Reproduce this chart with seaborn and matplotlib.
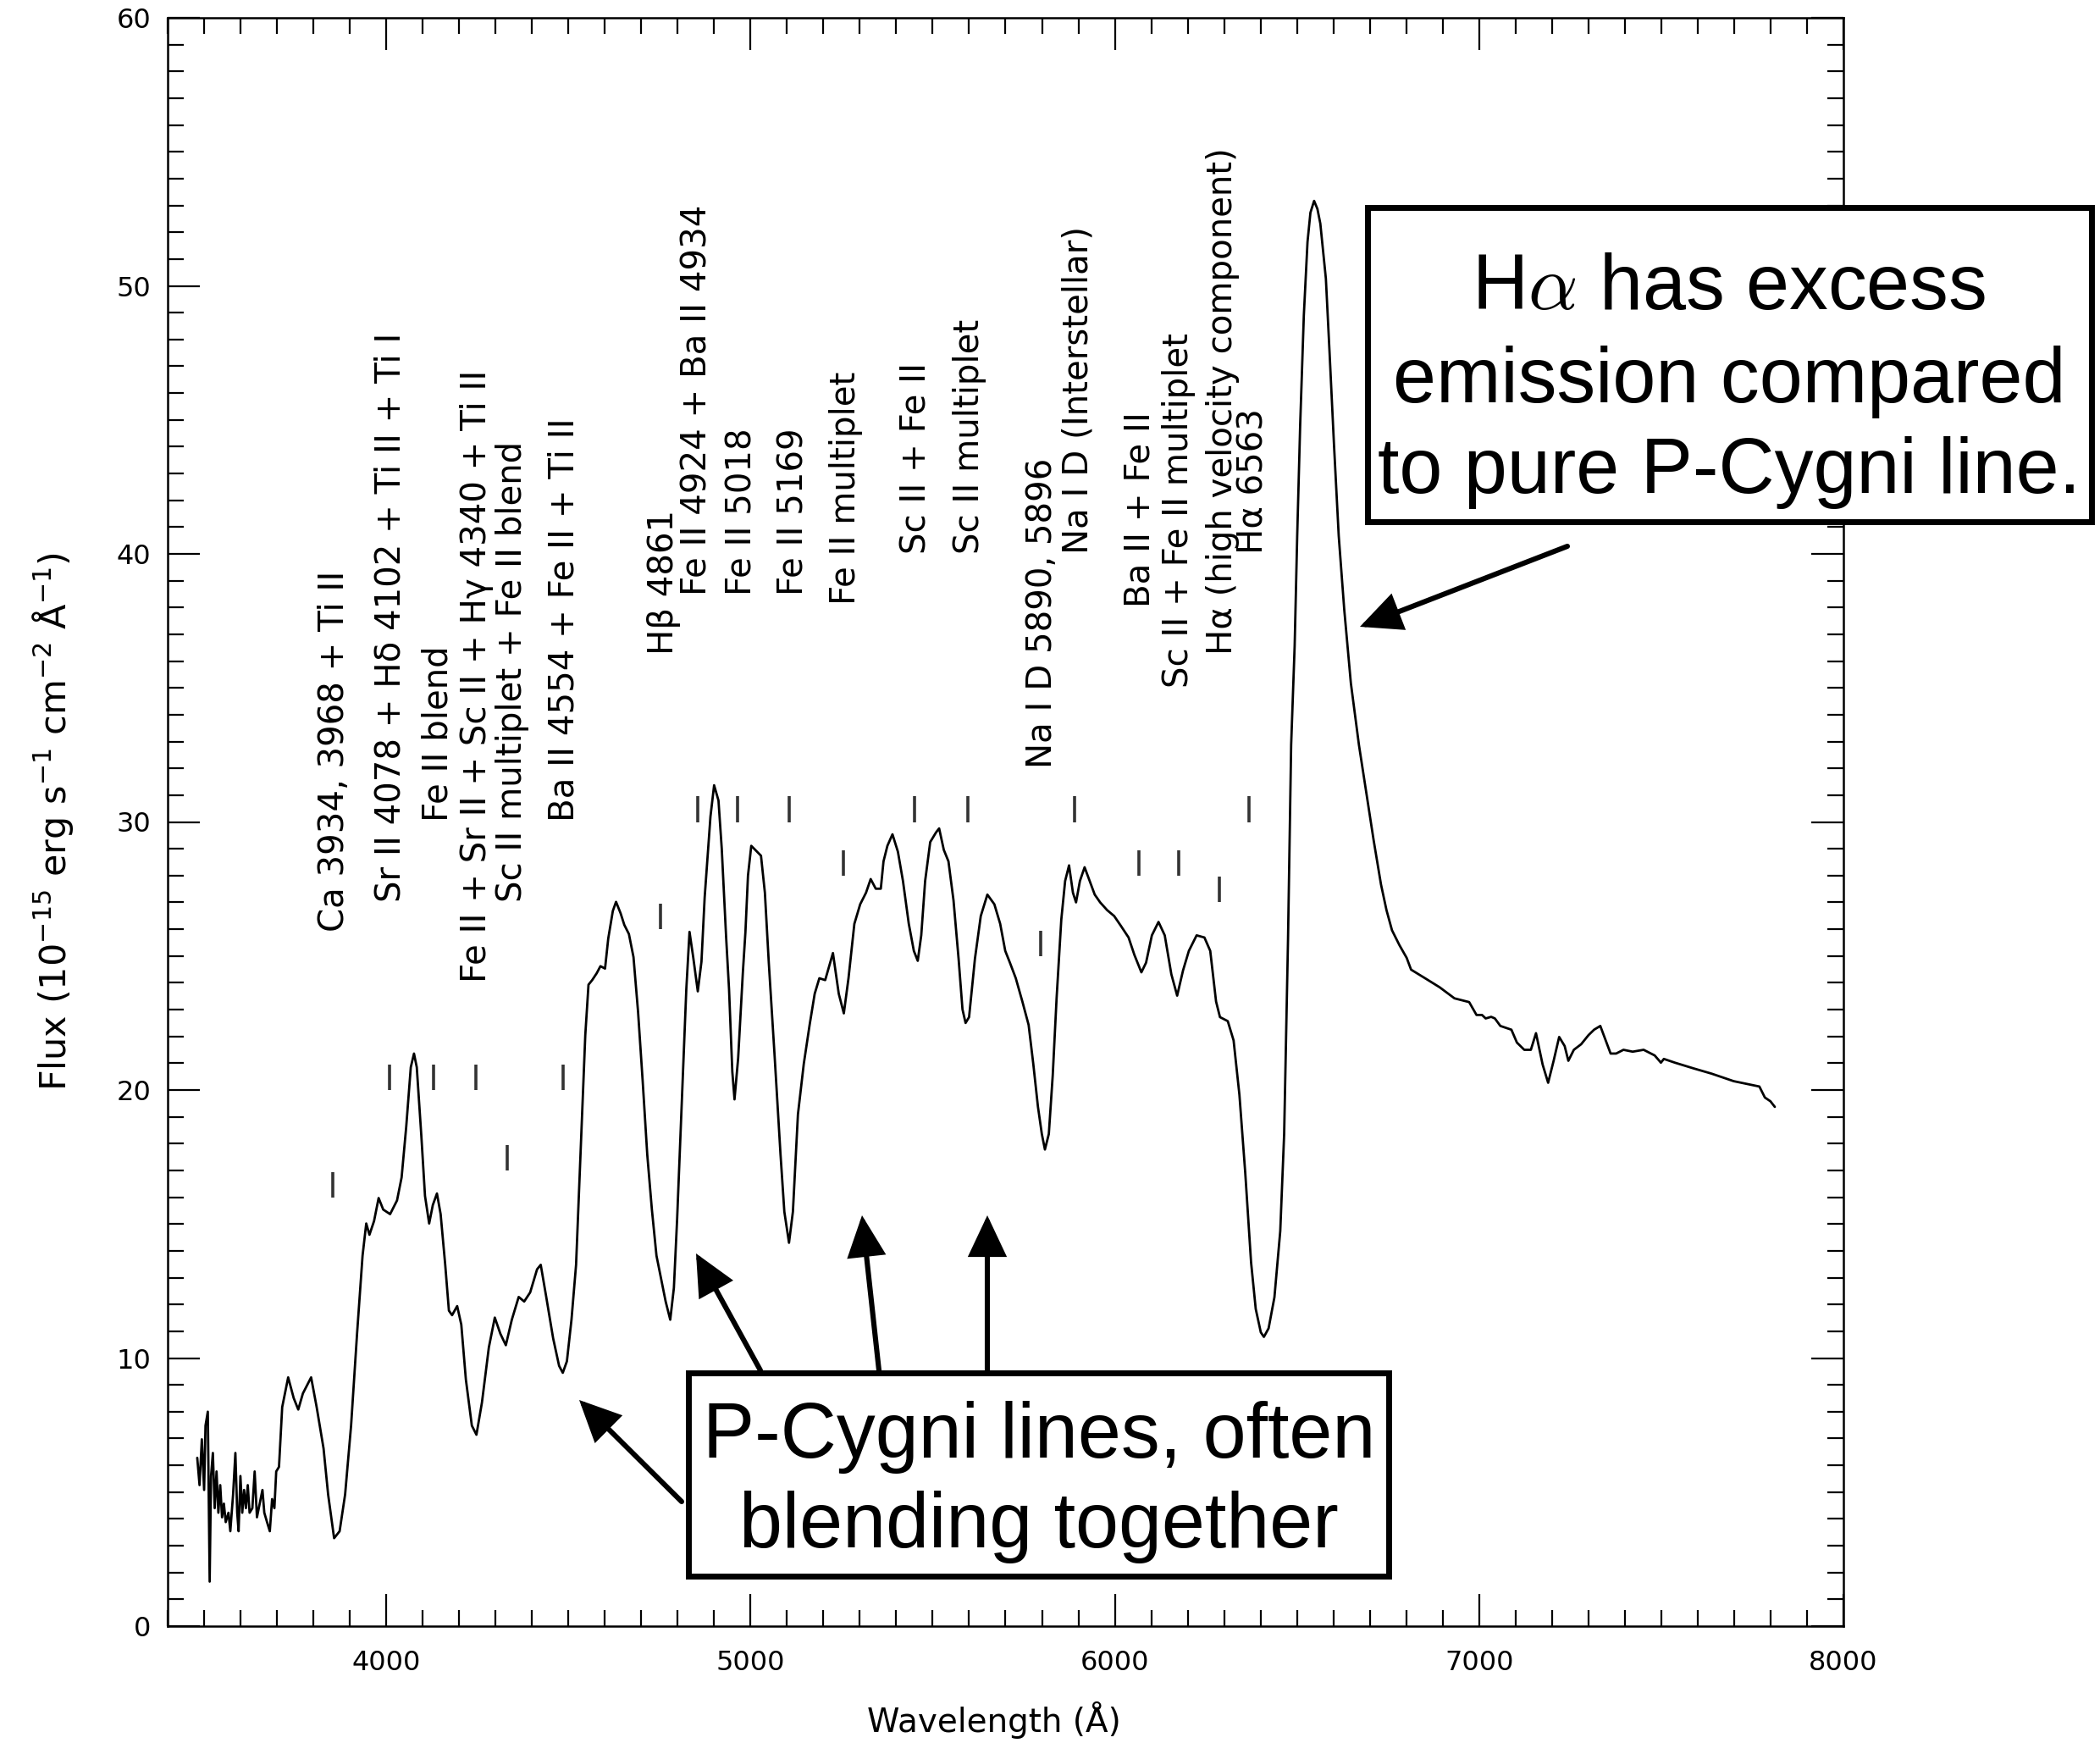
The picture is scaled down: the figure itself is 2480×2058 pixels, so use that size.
import numpy as np
import pandas as pd
import matplotlib
matplotlib.use("Agg")
import matplotlib.pyplot as plt
import seaborn as sns
from matplotlib.patches import Rectangle, FancyArrowPatch
from matplotlib.ticker import MultipleLocator

# ---------------- data ----------------
wavelength = [
    3481.2, 3487.5, 3493.8, 3500.1, 3503.9, 3510.2, 3515.3, 3519.1, 3524.1, 3529.1,
    3534.2, 3539.2, 3544.3, 3549.3, 3554.3, 3559.4, 3566.9, 3572.0, 3579.6, 3585.9,
    3590.9, 3594.7, 3599.7, 3604.8, 3609.8, 3614.8, 3619.9, 3624.9, 3632.5, 3638.8,
    3645.1, 3652.7, 3660.2, 3665.3, 3672.8, 3680.4, 3686.7, 3693.0, 3698.0, 3705.6,
    3714.4, 3730.8, 3745.9, 3758.5, 3771.2, 3793.8, 3809.0, 3827.9, 3840.5, 3856.9,
    3872.0, 3887.1, 3903.5, 3919.9, 3935.0, 3945.1, 3953.9, 3966.5, 3979.1, 3991.7,
    4010.6, 4029.6, 4042.2, 4054.8, 4067.4, 4076.2, 4083.8, 4096.4, 4106.4, 4117.8,
    4127.9, 4139.2, 4149.3, 4161.9, 4172.0, 4180.8, 4194.7, 4206.0, 4218.6, 4235.0,
    4247.6, 4262.7, 4281.7, 4298.0, 4313.2, 4328.3, 4344.7, 4363.6, 4378.7, 4395.1,
    4414.0, 4424.1, 4439.2, 4458.1, 4474.5, 4484.6, 4495.9, 4508.5, 4521.1, 4533.8,
    4546.4, 4555.2, 4565.3, 4577.9, 4588.0, 4600.6, 4609.4, 4622.0, 4630.8, 4643.4,
    4653.5, 4666.1, 4678.7, 4691.3, 4703.9, 4716.5, 4729.2, 4741.8, 4754.3, 4767.0,
    4779.6, 4789.6, 4798.5, 4811.1, 4823.7, 4832.5, 4842.6, 4855.2, 4865.3, 4874.1,
    4890.0, 4900.0, 4912.0, 4921.0, 4933.0, 4941.0, 4950.0, 4956.0, 4966.0, 4979.0,
    4986.0, 4993.0, 5002.0, 5018.0, 5028.7, 5039.4, 5050.1, 5066.1, 5082.1, 5092.8,
    5105.6, 5116.3, 5130.1, 5146.2, 5162.2, 5176.1, 5188.9, 5204.9, 5215.6, 5226.2,
    5242.2, 5256.1, 5268.9, 5285.0, 5301.0, 5317.0, 5329.8, 5343.7, 5357.6, 5365.0,
    5375.7, 5389.6, 5404.5, 5418.4, 5434.4, 5448.3, 5459.0, 5468.6, 5479.3, 5493.2,
    5509.2, 5517.7, 5530.5, 5543.3, 5557.2, 5571.1, 5581.8, 5590.3, 5599.9, 5616.0,
    5632.0, 5650.1, 5669.3, 5685.3, 5699.2, 5712.0, 5728.1, 5746.2, 5763.3, 5776.1,
    5788.9, 5799.6, 5808.1, 5818.8, 5829.5, 5840.2, 5853.0, 5863.6, 5874.3, 5885.0,
    5893.5, 5904.2, 5917.0, 5930.9, 5944.8, 5959.7, 5978.9, 5998.2, 6016.3, 6037.7,
    6053.7, 6072.9, 6085.7, 6101.7, 6119.9, 6137.0, 6155.1, 6171.1, 6187.2, 6203.2,
    6224.5, 6245.9, 6261.9, 6277.9, 6288.6, 6310.0, 6326.0, 6342.0, 6358.0, 6374.0,
    6386.8, 6400.7, 6409.2, 6422.1, 6438.1, 6454.1, 6464.8, 6475.4, 6484.0, 6493.6,
    6500.6, 6508.7, 6518.8, 6528.9, 6536.9, 6547.0, 6556.1, 6564.1, 6579.3, 6589.4,
    6601.5, 6614.6, 6629.7, 6647.9, 6670.0, 6690.2, 6710.4, 6730.6, 6745.7, 6760.8,
    6781.0, 6801.1, 6813.2, 6851.6, 6891.9, 6932.3, 6972.6, 6992.8, 7007.9, 7018.0,
    7033.1, 7043.2, 7058.3, 7088.6, 7103.7, 7123.9, 7142.0, 7156.1, 7174.3, 7189.4,
    7204.5, 7219.7, 7234.8, 7244.9, 7260.0, 7280.2, 7300.4, 7315.5, 7332.6, 7345.7,
    7360.9, 7376.0, 7396.2, 7421.4, 7451.6, 7481.9, 7499.0, 7507.1, 7537.4, 7587.8,
    7638.2, 7698.7, 7769.3, 7784.4, 7799.6, 7811.7,
]
flux = [
    6.28, 5.26, 6.97, 5.08, 7.48, 8.00, 1.66, 5.60, 6.46, 4.40,
    5.77, 4.23, 5.26, 4.06, 4.57, 3.88, 4.23, 3.54, 4.91, 6.46,
    4.23, 3.54, 5.60, 4.23, 5.08, 4.40, 5.26, 4.23, 4.40, 5.77,
    4.06, 4.57, 5.08, 4.23, 3.88, 3.54, 4.74, 4.40, 5.77, 5.94,
    8.17, 9.28, 8.51, 8.08, 8.68, 9.28, 8.17, 6.63, 4.91, 3.28,
    3.54, 4.91, 7.48, 10.91, 13.82, 15.02, 14.60, 15.11, 15.97, 15.54,
    15.37, 15.88, 16.74, 18.62, 20.85, 21.36, 20.85, 18.28, 16.05, 15.02,
    15.71, 16.14, 15.37, 13.48, 11.77, 11.60, 11.94, 11.25, 9.20, 7.48,
    7.14, 8.34, 10.40, 11.51, 10.91, 10.48, 11.43, 12.28, 12.11, 12.45,
    13.31, 13.48, 12.28, 10.74, 9.71, 9.45, 9.88, 11.43, 13.48, 17.77,
    22.05, 23.93, 24.10, 24.36, 24.62, 24.53, 25.65, 26.68, 27.02, 26.59,
    26.16, 25.82, 24.96, 22.91, 20.34, 17.59, 15.54, 13.82, 12.97, 12.11,
    11.43, 12.62, 15.19, 19.48, 23.76, 25.90, 24.96, 23.68, 24.79, 27.19,
    30.20, 31.37, 30.80, 29.00, 25.70, 23.76, 20.68, 19.65, 21.19, 24.40,
    25.90, 28.00, 29.11, 28.89, 28.74, 27.36, 24.75, 21.27, 17.64, 15.46,
    14.30, 15.46, 19.09, 20.98, 22.43, 23.59, 24.17, 24.10, 24.61, 25.11,
    23.59, 22.86, 24.17, 26.20, 26.93, 27.36, 27.87, 27.51, 27.51, 28.53,
    29.11, 29.54, 28.89, 27.80, 26.20, 25.19, 24.82, 25.77, 27.80, 29.25,
    29.61, 29.76, 28.96, 28.53, 27.07, 24.90, 23.01, 22.50, 22.72, 24.90,
    26.49, 27.29, 26.93, 26.20, 25.19, 24.75, 24.17, 23.30, 22.43, 20.98,
    19.38, 18.36, 17.78, 18.36, 20.54, 23.44, 26.35, 27.80, 28.38, 27.36,
    27.00, 27.80, 28.31, 27.80, 27.29, 27.00, 26.71, 26.49, 26.13, 25.69,
    25.04, 24.39, 24.75, 25.77, 26.27, 25.77, 24.32, 23.52, 24.46, 25.19,
    25.77, 25.69, 25.19, 23.30, 22.72, 22.57, 21.85, 19.82, 16.91, 13.57,
    11.83, 10.96, 10.79, 11.11, 12.27, 14.74, 18.36, 25.62, 32.88, 36.56,
    40.67, 44.78, 48.90, 51.64, 52.73, 53.17, 52.87, 52.32, 50.27, 47.52,
    44.10, 40.67, 37.93, 35.18, 32.88, 31.10, 29.32, 27.67, 26.71, 25.96,
    25.41, 24.93, 24.49, 24.17, 23.83, 23.42, 23.28, 22.80, 22.80, 22.67,
    22.73, 22.67, 22.39, 22.25, 21.77, 21.50, 21.50, 22.12, 20.95, 20.27,
    21.09, 21.98, 21.64, 21.09, 21.50, 21.71, 22.05, 22.25, 22.39, 21.91,
    21.36, 21.36, 21.50, 21.43, 21.50, 21.29, 21.02, 21.16, 21.02, 20.81,
    20.61, 20.33, 20.13, 19.72, 19.58, 19.37,
]

line_labels = [
    "Ca 3934, 3968 + Ti II",
    "Sr II 4078 + H\u03b4 4102 + Ti II + Ti I",
    "Fe II blend",
    "Fe II + Sr II + Sc II + H\u03b3 4340 + Ti II",
    "Sc II multiplet + Fe II blend",
    "Ba II 4554 + Fe II + Ti II",
    "H\u03b2 4861",
    "Fe II 4924 + Ba II 4934",
    "Fe II 5018",
    "Fe II 5169",
    "Fe II multiplet",
    "Sc II + Fe II",
    "Sc II multiplet",
    "Na I D 5890, 5896",
    "Na I D (Interstellar)",
    "Ba II + Fe II",
    "Sc II + Fe II multiplet",
    "H\u03b1 (high velocity component)",
    "H\u03b1 6563",
]
label_wave = [3859, 4013, 4142, 4248, 4347, 4490, 4763, 4854, 4978, 5118,
              5263, 5456, 5601, 5800, 5899, 6070, 6175, 6296, 6380]
label_base = [25.9, 27.0, 30.0, 24.0, 27.0, 30.0, 36.25, 38.45, 38.45, 38.45,
              38.1, 40.0, 40.0, 32.0, 40.0, 38.0, 35.0, 36.25, 40.0]
marker_wave = [3853, 4009, 4131, 4246, 4332, 4486, 4753, 4856, 4964, 5107,
               5255, 5450, 5597, 5797, 5890, 6066, 6176, 6286, 6368]
marker_base = [16.0, 20.0, 20.0, 20.0, 17.0, 20.0, 26.0, 30.0, 30.0, 30.0,
               28.0, 30.0, 30.0, 25.0, 30.0, 28.0, 28.0, 27.0, 30.0]
marker_len = 0.95

x_ticks = [4000, 5000, 6000, 7000, 8000]
y_ticks = [0, 10, 20, 30, 40, 50, 60]

box_halpha_lines = [r"H$\alpha$ has excess", "emission compared", "to pure P-Cygni line."]
box_pcyg_lines = ["P-Cygni lines, often", "blending together"]

# ---------------- style ----------------
sns.set_style("ticks")
plt.rcParams["font.family"] = ["DejaVu Sans"]
plt.rcParams.update({
    "text.color": "black",
    "axes.labelcolor": "black",
    "axes.edgecolor": "black",
    "xtick.color": "black",
    "ytick.color": "black",
    "axes.linewidth": 0.9,
})

W, H = 2480, 2058
fig = plt.figure(figsize=(W / 200, H / 200), dpi=200)
fig.patch.set_facecolor("white")


def fx(p):
    return p / W


def fy(p):
    return 1 - p / H


ax = fig.add_axes([fx(198), fy(1920), (2177 - 198) / W, (1920 - 21) / H])
ax.set_facecolor("white")

df = pd.DataFrame({"wavelength": wavelength, "flux": flux})
sns.lineplot(data=df, x="wavelength", y="flux", ax=ax, color="black",
             linewidth=1.0, estimator=None, sort=False)

# line identification markers and labels
mb = np.asarray(marker_base)
ax.vlines(marker_wave, mb, mb + marker_len, color="#333333", linewidth=1.3)
for txt, w, b in zip(line_labels, label_wave, label_base):
    ax.text(w, b, txt, rotation=90, ha="center", va="bottom", fontsize=14.5,
            color="black")

ax.set_xlim(3400, 8000)
ax.set_ylim(0, 60)
ax.set_xticks(x_ticks)
ax.set_yticks(y_ticks)
ax.xaxis.set_minor_locator(MultipleLocator(100))
ax.yaxis.set_minor_locator(MultipleLocator(1))
ax.tick_params(which="both", direction="in", top=True, right=True,
               color="black", width=0.8, labelcolor="black")
ax.tick_params(which="major", length=13.7, labelsize=11.5)
ax.tick_params(which="minor", length=6.8)
ax.tick_params(axis="x", which="major", pad=10)
ax.tick_params(axis="y", which="major", pad=7)
for s in ax.spines.values():
    s.set_visible(True)
    s.set_color("black")
    s.set_linewidth(0.9)

ax.set_xlabel("Wavelength (\u00c5)", fontsize=14, color="black")
ax.set_ylabel("Flux (10$^{-15}$ erg s$^{-1}$ cm$^{-2}$ \u00c5$^{-1}$)",
              fontsize=15.5, color="black")
ax.xaxis.set_label_coords(0.493, -0.047)
ax.yaxis.set_label_coords(-0.055, 0.5)

# ---------------- annotation boxes ----------------
box_lw = 2.5
rect1 = Rectangle((fx(1615), fy(616)), (2470 - 1615) / W, (616 - 245) / H,
                  transform=fig.transFigure, facecolor="white", edgecolor="black",
                  linewidth=box_lw, zorder=5)
fig.add_artist(rect1)
for txt, base in zip(box_halpha_lines, [365, 475, 582]):
    fig.text(fx(2042), fy(base), txt, ha="center", va="baseline", fontsize=33,
             family="Liberation Sans", math_fontfamily="cm", color="black",
             zorder=6)

rect2 = Rectangle((fx(813), fy(1861)), (1640 - 813) / W, (1861 - 1621) / H,
                  transform=fig.transFigure, facecolor="white", edgecolor="black",
                  linewidth=box_lw, zorder=5)
fig.add_artist(rect2)
for txt, base in zip(box_pcyg_lines, [1721, 1827]):
    fig.text(fx(1227), fy(base), txt, ha="center", va="baseline", fontsize=33,
             family="Liberation Sans", color="black", zorder=6)

arrows = [
    ((1851, 645), (1606, 740)),
    ((805, 1773), (684, 1653)),
    ((898, 1618), (822, 1480)),
    ((1038, 1618), (1018, 1435)),
    ((1166, 1618), (1166, 1435)),
]
for (tx, ty), (hx, hy) in arrows:
    arr = FancyArrowPatch((fx(tx), fy(ty)), (fx(hx), fy(hy)),
                          transform=fig.transFigure,
                          arrowstyle="-|>,head_length=0.7,head_width=0.33",
                          mutation_scale=20, linewidth=2.2, color="black",
                          shrinkA=0, shrinkB=0, joinstyle="miter", zorder=6)
    fig.add_artist(arr)

fig.savefig("out.png", dpi=200, facecolor="white")
